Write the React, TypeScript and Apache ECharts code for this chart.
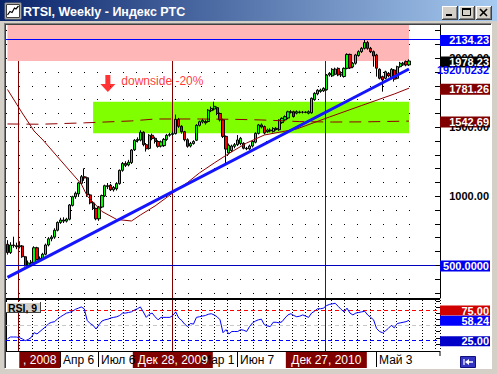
import React, { useEffect, useRef } from 'react';
import * as echarts from 'echarts';

// ---------- data ----------
const START = Date.UTC(2008, 11, 1);
const SLOTS = 147; // bars + right shift
const categories: string[] = Array.from({ length: SLOTS }, (_, i) =>
  new Date(START + i * 7 * 86400000).toISOString().slice(0, 10)
);

const opens = [
  650, 590, 645, 640, 632, 638, 560, 496, 515, 518,
  625, 540, 545, 578, 645, 690, 702, 752, 808, 826,
  818, 832, 932, 995, 1015, 1092, 1140, 1132, 1008, 950,
  910, 835, 920, 1000, 1075, 1078, 1045, 1052, 1090, 1186,
  1236, 1225, 1242, 1335, 1402, 1405, 1462, 1372, 1345, 1440,
  1418, 1395, 1362, 1365, 1410, 1440, 1446, 1452, 1556, 1505,
  1466, 1408, 1362, 1380, 1404, 1512, 1536, 1540, 1540, 1618,
  1630, 1640, 1598, 1552, 1432, 1312, 1330, 1360, 1372, 1380,
  1382, 1346, 1342, 1362, 1390, 1454, 1515, 1503, 1466, 1472,
  1468, 1482, 1480, 1532, 1552, 1565, 1605, 1611, 1600, 1605,
  1607, 1608, 1600, 1603, 1698, 1740, 1758, 1762, 1770, 1877,
  1870, 1882, 1925, 1877, 1866, 1925, 2026, 1935, 1962, 2018,
  2046, 2070, 2112, 2070, 2046, 2022, 1918, 1865, 1853, 1889,
  1853, 1913, 1853, 1937, 1950, 1974, 1950,
];
const closes = [
  590, 645, 640, 632, 640, 560, 496, 515, 520, 625,
  540, 548, 578, 645, 690, 702, 752, 808, 826, 818,
  832, 935, 995, 1020, 1095, 1140, 1130, 1008, 950, 910,
  835, 920, 1003, 1075, 1068, 1045, 1062, 1090, 1186, 1236,
  1222, 1245, 1333, 1404, 1410, 1462, 1372, 1342, 1440, 1416,
  1395, 1360, 1392, 1410, 1440, 1446, 1452, 1556, 1505, 1466,
  1408, 1360, 1380, 1395, 1512, 1538, 1548, 1530, 1622, 1635,
  1650, 1598, 1552, 1432, 1340, 1368, 1362, 1372, 1406, 1418,
  1346, 1342, 1362, 1395, 1454, 1515, 1500, 1456, 1478, 1478,
  1490, 1490, 1550, 1563, 1575, 1610, 1611, 1576, 1611, 1609,
  1607, 1606, 1611, 1708, 1744, 1766, 1768, 1780, 1877, 1889,
  1918, 1920, 1877, 1895, 1925, 2026, 1928, 1962, 2022, 2046,
  2070, 2112, 2070, 2046, 2015, 1926, 1853, 1841, 1900, 1870,
  1918, 1846, 1937, 1962, 1962, 1950, 1978.23,
];
const highs = [
  680, 665, 705, 662, 672, 645, 566, 532, 536, 636,
  632, 562, 588, 655, 702, 716, 766, 816, 842, 846,
  842, 942, 1002, 1032, 1102, 1152, 1200, 1140, 1016, 960,
  915, 928, 1010, 1082, 1094, 1088, 1072, 1100, 1192, 1246,
  1252, 1262, 1340, 1412, 1425, 1476, 1470, 1384, 1448, 1452,
  1430, 1404, 1402, 1420, 1450, 1458, 1466, 1590, 1566, 1514,
  1472, 1418, 1392, 1404, 1520, 1546, 1560, 1552, 1630, 1648,
  1683, 1648, 1604, 1560, 1438, 1380, 1372, 1384, 1442, 1428,
  1390, 1356, 1372, 1404, 1462, 1522, 1526, 1510, 1488, 1490,
  1498, 1500, 1556, 1570, 1584, 1618, 1622, 1618, 1620, 1618,
  1616, 1615, 1620, 1714, 1752, 1774, 1778, 1788, 1884, 1898,
  1926, 1930, 1932, 1904, 1932, 2034, 2032, 1972, 2030, 2056,
  2080, 2134, 2124, 2080, 2054, 2030, 1925, 1872, 1908, 1898,
  1926, 1920, 1944, 1972, 1972, 1982, 1990,
];
const lows = [
  575, 580, 625, 615, 620, 552, 489, 490, 503, 510,
  533, 528, 535, 570, 635, 672, 690, 744, 798, 804,
  808, 824, 924, 980, 1000, 1080, 1110, 1000, 940, 898,
  824, 820, 912, 992, 1050, 1036, 1032, 1040, 1082, 1176,
  1210, 1215, 1232, 1326, 1388, 1396, 1360, 1322, 1336, 1404,
  1380, 1350, 1352, 1356, 1400, 1430, 1436, 1446, 1494, 1452,
  1396, 1350, 1352, 1372, 1398, 1504, 1526, 1518, 1532, 1608,
  1620, 1586, 1540, 1420, 1237, 1300, 1318, 1346, 1362, 1368,
  1338, 1332, 1334, 1352, 1382, 1446, 1490, 1446, 1456, 1462,
  1460, 1474, 1472, 1524, 1544, 1556, 1598, 1568, 1592, 1598,
  1598, 1600, 1592, 1596, 1690, 1730, 1748, 1754, 1764, 1866,
  1862, 1874, 1868, 1862, 1858, 1918, 1920, 1926, 1952, 2010,
  2036, 2062, 2060, 2036, 1937, 1865, 1845, 1756, 1846, 1860,
  1846, 1829, 1846, 1930, 1942, 1940, 1942,
];
const rsi = [
  28, 31, 31, 31, 30, 28, 25, 27, 30, 38,
  36, 40, 44, 48, 53, 55, 56, 61, 64, 67,
  70, 71, 73, 76, 78, 80, 77, 58, 53, 50,
  44, 51, 57, 59, 60, 62, 63, 64, 66, 70,
  70, 71, 72, 75, 77, 80, 72, 63, 68, 70,
  64, 59, 63, 63, 63, 63, 66, 72, 62, 58,
  52, 48, 53, 52, 63, 64, 65, 66, 68, 69,
  67, 64, 59, 38, 43, 36, 40, 40, 40, 43,
  42, 40, 48, 54, 57, 59, 60, 51, 49, 48,
  55, 55, 54, 56, 62, 67, 69, 66, 64, 65,
  67, 65, 63, 70, 73, 77, 77, 78, 82, 84,
  85, 86, 81, 76, 72, 78, 70, 67, 70, 71,
  72, 73, 67, 63, 59, 45, 40, 38, 41, 45,
  50, 46, 53, 54, 55, 56, 58.24,
];
// moving averages read at sample bars [barIndex, value]
const maMid = [
  [0, 1772], [5, 1601], [9, 1471], [12, 1406], [17, 1283], [25, 1087], [27, 1000],
  [32, 888], [37, 830], [42, 819], [45, 862], [50, 928], [56, 1022], [61, 1098],
  [65, 1167], [70, 1239], [75, 1308], [81, 1384], [87, 1442], [98, 1486],
  [109, 1572], [120, 1656], [131, 1739], [136, 1781.26],
];
const maLong = [
  [0, 1522], [11, 1520], [26, 1530], [33, 1536], [42, 1544], [50, 1558], [65, 1558],
  [76, 1556], [86, 1551], [92, 1546], [99, 1539], [110, 1536], [120, 1537], [136, 1542.69],
];
const trendLine = [[0, 410], [136, 1920.0232]];
const resistance = 2134.23;
const support = 500;
const pinkZone = [1978.23, 2239.1];
const greenZone = [1454, 1683];
const greenStartBar = 29;
const lastBar = 136;
const arrowPoint = [[34, 1815]];
const separatorBars = [4, 56, 108];
const timeLabels = [
  { i: 18, t: 'Апр 6' }, { i: 31, t: 'Июл 6' }, { i: 65, t: 'Мар 1' },
  { i: 78, t: 'Июн 7' }, { i: 125, t: 'Май 3' },
];
const sepLabels = [
  { i: 4, t: ', 2008', w: 41, anchor: 'left' },
  { i: 56, t: 'Дек 28, 2009', w: 80, anchor: 'center' },
  { i: 108, t: 'Дек 27, 2010', w: 81, anchor: 'center' },
];
const PRICE_MIN = 260.9;
const PRICE_MAX = 2239.1;
const RSI_MIN = 8.2;
const RSI_MAX = 91.3;
const gridRowsSparse = [300, 400, 600, 700, 800, 900, 1100, 1200, 1300, 1400, 1600, 1700, 1800, 1900, 2100, 2200];
const gridRowsDense = [1000, 1500, 2000];
const priceTicks = [300, 400, 500, 600, 700, 800, 900, 1000, 1100, 1200, 1300, 1400, 1500, 1600, 1700, 1800, 1900, 2000, 2100, 2200];
const priceAxisLabels = [1000, 1500, 2000];
const rsiTicks = [20, 30, 40, 50, 60, 70, 80, 90];
const priceBoxes = [
  { v: 2134.23, t: '2134.23', bg: '#0000ff' },
  { v: 1978.23, t: '1978.23', bg: '#000000' },
  { v: 1781.26, t: '1781.26', bg: '#800000' },
  { v: 1542.69, t: '1542.69', bg: '#800000' },
  { v: 500, t: '500.0000', bg: '#0000ee' },
];
const rsiBoxes = [
  { v: 75, t: '75.00', bg: '#d00000' },
  { v: 58.24, t: '58.24', bg: '#0000ff' },
  { v: 25, t: '25.00', bg: '#0000c8' },
];
const rsiLevels = [75, 50, 25];

const FONT = '"Liberation Sans", Arial, sans-serif';

function buildOption(): any {
  const candles = opens.map((o, i) => [o, closes[i], lows[i], highs[i]]);
  const hidden = {
    type: 'line', data: closes, symbol: 'none', showSymbol: false,
    lineStyle: { opacity: 0 }, silent: true, xAxisIndex: 0, yAxisIndex: 0, z: 1,
  };
  return {
    animation: false,
    backgroundColor: '#ffffff',
    textStyle: { fontFamily: FONT },
    grid: [
      { left: 6, top: 25, width: 434, height: 273 },
      { left: 6, top: 300, width: 434, height: 51 },
    ],
    xAxis: [
      { type: 'category', gridIndex: 0, data: categories, show: false },
      { type: 'category', gridIndex: 1, data: categories, show: false },
      {
        type: 'value', gridIndex: 1, position: 'top', min: 0, max: 434, interval: 13,
        axisLine: { show: false }, axisTick: { show: false }, axisLabel: { show: false },
        splitLine: { show: true, lineStyle: { color: '#000', width: 1, type: [1, 2] } },
      },
    ],
    yAxis: [
      {
        type: 'value', gridIndex: 0, position: 'right', min: PRICE_MIN, max: PRICE_MAX,
        axisLine: { show: true, lineStyle: { color: '#000', width: 1 } },
        axisTick: { show: false }, axisLabel: { show: false }, splitLine: { show: false },
      },
      {
        type: 'value', gridIndex: 1, position: 'right', min: RSI_MIN, max: RSI_MAX,
        axisLine: { show: true, lineStyle: { color: '#000', width: 1 } },
        axisTick: { show: false }, axisLabel: { show: false }, splitLine: { show: false },
      },
    ],
    series: [
      {
        ...hidden, name: 'greenZone',
        markArea: {
          z: 2, silent: true, itemStyle: { color: '#80ff00', opacity: 1, borderWidth: 0 },
          data: [[{ coord: [greenStartBar, greenZone[0]] }, { coord: [lastBar, greenZone[1]] }]],
        },
      },
      {
        ...hidden, name: 'pinkZone',
        markArea: {
          z: 4, silent: true, itemStyle: { color: '#ffb6b6', opacity: 1, borderWidth: 0 },
          data: [[{ coord: [0, pinkZone[0]] }, { coord: [lastBar, pinkZone[1]] }]],
        },
      },
      {
        type: 'candlestick', name: 'RTSI', data: candles, xAxisIndex: 0, yAxisIndex: 0,
        barWidth: 2.6, z: 5, silent: true,
        itemStyle: {
          color: '#00ff00', color0: '#ff0000', borderColor: '#000000', borderColor0: '#000000', borderWidth: 1,
        },
      },
      {
        type: 'line', name: 'MA long', data: maLong, symbol: 'none', z: 6, silent: true,
        lineStyle: { color: '#900000', width: 1, type: [12, 7] },
      },
      {
        type: 'line', name: 'MA', data: maMid, symbol: 'none', z: 6, silent: true,
        lineStyle: { color: '#900000', width: 1 },
      },
      {
        type: 'line', name: 'trend', data: trendLine, symbol: 'none', z: 7, silent: true,
        lineStyle: { color: '#1414ff', width: 3 },
        markLine: {
          z: 8, silent: true, symbol: 'none', label: { show: false },
          data: [
            { yAxis: resistance, lineStyle: { color: '#0000ff', width: 1, type: 'solid' } },
            { yAxis: support, lineStyle: { color: '#0000c0', width: 1, type: 'solid' } },
          ],
        },
      },
      {
        type: 'scatter', name: 'arrow', data: arrowPoint, z: 9, silent: true,
        symbol: 'path://M5,0 L10,0 L10,9 L15,9 L7.5,17 L0,9 L5,9 Z', symbolSize: [15, 17],
        itemStyle: { color: '#ff0000' },
        label: {
          show: true, position: 'right', distance: 6, offset: [0, -3],
          formatter: 'downside -20%', color: '#ff0000', fontSize: 12, fontFamily: FONT,
        },
      },
      {
        type: 'line', name: 'RSI', data: rsi, xAxisIndex: 1, yAxisIndex: 1, symbol: 'none', z: 6, silent: true,
        lineStyle: { color: '#0000ff', width: 1 },
        markLine: {
          z: 4, silent: true, symbol: 'none', label: { show: false },
          data: [
            { yAxis: rsiLevels[0], lineStyle: { color: '#ff0000', width: 1, type: [4, 3] } },
            { yAxis: rsiLevels[1], lineStyle: { color: '#c8c8c8', width: 1, type: [4, 3] } },
            { yAxis: rsiLevels[2], lineStyle: { color: '#0000ff', width: 1, type: [4, 3] } },
          ],
        },
      },
    ],
  };
}

function buildOverlay(chart: any): any[] {
  const py = (v: number) => chart.convertToPixel({ yAxisIndex: 0 }, v) as number;
  const ry = (v: number) => chart.convertToPixel({ yAxisIndex: 1 }, v) as number;
  const bx = (i: number) => chart.convertToPixel({ xAxisIndex: 1 }, categories[i]) as number;
  const Z = 100;
  const els: any[] = [];
  const rect = (x: number, y: number, w: number, h: number, fill: string, stroke?: string, z = Z) =>
    els.push({ type: 'rect', shape: { x, y, width: w, height: h }, style: { fill, stroke: stroke || null, lineWidth: 1 }, z, silent: true });
  const line = (x1: number, y1: number, x2: number, y2: number, stroke: string, lw = 1, z = Z, dash?: number[]) =>
    els.push({ type: 'line', shape: { x1, y1, x2, y2 }, style: { stroke, lineWidth: lw, lineDash: dash || null }, z, silent: true });
  const text = (x: number, y: number, t: string, fill: string, font: string, align = 'left') =>
    els.push({
      type: 'text', x, y, z: Z + 1, silent: true,
      style: { text: t, fill, font, textAlign: align, textVerticalAlign: 'middle' },
    });

  // ---- under-layer: dotted price grid (z 0) and period separators (z 3)
  const gx0 = Math.round(bx(0) - 1.5);
  const gx1 = Math.round(bx(lastBar)) + 1;
  gridRowsSparse.forEach((v) => {
    const y = Math.round(py(v)) + 0.5;
    line(gx0, y, gx1, y, '#000', 1, 0, [1, 12]);
  });
  gridRowsDense.forEach((v) => {
    const y = Math.round(py(v)) + 0.5;
    line(gx0, y, gx1, y, '#000', 1, 0, [1, 3]);
  });
  separatorBars.forEach((i) => {
    const x = Math.round(bx(i)) - 0.5;
    line(x, 25, x, 298, '#800000', 1, 3);
    line(x, 300, x, 351, '#800000', 1, 3);
  });

  // window chrome
  rect(0, 0, 5, 374, '#d4d0c8');
  rect(491, 0, 6, 374, '#d4d0c8');
  rect(0, 0, 497, 24, '#d4d0c8');
  rect(0, 368, 497, 6, '#d4d0c8');
  els.push({
    type: 'rect', shape: { x: 0, y: 0, width: 497, height: 21 }, z: Z, silent: true,
    style: { fill: new echarts.graphic.LinearGradient(0, 0, 1, 0, [{ offset: 0, color: '#0a246a' }, { offset: 1, color: '#a6caf0' }]) },
  });
  line(4.5, 23, 4.5, 368, '#808080');
  line(4, 23.5, 491, 23.5, '#808080');
  line(5.5, 24, 5.5, 368, '#404040');
  line(5, 24.5, 491, 24.5, '#404040');
  line(491.5, 24, 491.5, 369, '#ffffff');
  line(5, 368.5, 492, 368.5, '#ffffff');
  // title icon
  rect(5, 3, 16, 16, '#d4d0c8', '#808080');
  rect(6.5, 4.5, 13, 13, '#ffffff', '#404040');
  els.push({
    type: 'polyline', shape: { points: [[7.5, 15], [10, 11.5], [12, 12.5], [14.5, 8], [16, 9], [18.5, 6]] },
    style: { stroke: '#000', lineWidth: 1.2, fill: null }, z: Z + 1, silent: true,
  });
  text(23, 12, 'RTSI, Weekly - Индекс РТС', '#ffffff', `bold 12.5px ${FONT}`);
  // window buttons
  [442, 459, 476].forEach((x0, k) => {
    rect(x0, 6, 16, 14, '#d4d0c8');
    line(x0, 6.5, x0 + 16, 6.5, '#ffffff');
    line(x0 + 0.5, 6, x0 + 0.5, 20, '#ffffff');
    line(x0, 19.5, x0 + 16, 19.5, '#404040');
    line(x0 + 15.5, 6, x0 + 15.5, 20, '#404040');
    line(x0 + 1, 18.5, x0 + 15, 18.5, '#808080');
    line(x0 + 14.5, 7, x0 + 14.5, 19, '#808080');
    if (k === 0) rect(x0 + 4, 14, 6, 2, '#000');
    if (k === 1) {
      rect(x0 + 3.5, 8.5, 8, 7, 'none', '#000');
      rect(x0 + 3, 8, 9, 2, '#000');
    }
    if (k === 2) {
      line(x0 + 4, 9, x0 + 11, 16, '#000', 1.6);
      line(x0 + 11, 9, x0 + 4, 16, '#000', 1.6);
    }
  });

  // pane separator & time strip line
  rect(6, 298, 434, 2, '#000');
  line(6, 351.5, 440, 351.5, '#000');
  line(440, 351, 440, 356, '#000');

  // price ticks
  priceTicks.forEach((v) => { const y = Math.round(py(v)) + 0.5; line(435, y, 440, y, '#000'); });
  rsiTicks.forEach((v) => { const y = Math.round(ry(v)) + 0.5; line(436, y, 440, y, '#000'); });

  const bold = `bold 11px ${FONT}`;
  // plain axis labels (partly hidden under boxes)
  priceAxisLabels.forEach((v) => text(489, py(v), v.toFixed(2), '#000', bold, 'right'));
  // trend line value label (partly hidden)
  text(489, py(trendLine[1][1]) + 0.5, trendLine[1][1].toFixed(4), '#0000ff', bold, 'right');
  // value boxes
  priceBoxes.forEach((b) => {
    const y = py(b.v) + 1;
    rect(440, y - 5.5, 50, 11, b.bg);
    text(489, y, b.t, '#ffffff', bold, 'right');
  });
  rsiBoxes.forEach((b) => {
    const y = ry(b.v) + 0.5;
    rect(440, y - 5, 50, 10, b.bg);
    text(489, y, b.t, '#ffffff', bold, 'right');
  });

  // RSI caption
  rect(6, 302, 35, 11, '#d4d0c8');
  line(6, 302.5, 41, 302.5, '#ffffff');
  line(6.5, 302, 6.5, 313, '#ffffff');
  line(6, 312.5, 41, 312.5, '#404040');
  line(40.5, 302, 40.5, 313, '#404040');
  text(8, 307.5, 'RSI, 9', '#000', `bold 10.5px ${FONT}`);

  // time labels
  timeLabels.forEach(({ i, t }) => {
    const x = Math.round(bx(i)) - 0.5;
    line(x, 352, x, 367, '#000');
    text(x + 2.5, 360, t, '#000', `12px ${FONT}`);
  });
  sepLabels.forEach(({ i, t, w, anchor }) => {
    const x = bx(i);
    const left = anchor === 'left' ? x : x - w / 2;
    rect(left, 352, w, 16, '#800000');
    text(left + w / 2, 360, t, '#ffffff', `12px ${FONT}`, 'center');
  });

  // shift icon
  rect(460.5, 356.5, 15, 11, '#3434c4', '#10107a');
  line(464, 359, 464, 365, '#ffffff', 1.2);
  els.push({ type: 'polygon', shape: { points: [[465, 362], [469, 359], [469, 365]] }, style: { fill: '#ffffff' }, z: Z + 1, silent: true });
  line(469, 362, 473, 362, '#ffffff', 1.5);

  return els;
}

export default function App() {
  const ref = useRef<HTMLDivElement>(null);
  useEffect(() => {
    if (!ref.current) return;
    const chart = echarts.init(ref.current, null, { renderer: 'svg' });
    chart.setOption(buildOption());
    chart.setOption({ graphic: { elements: buildOverlay(chart) } });
    return () => chart.dispose();
  }, []);
  return <div ref={ref} style={{ position: 'fixed', left: 0, top: 0, width: 497, height: 374 }} />;
}
